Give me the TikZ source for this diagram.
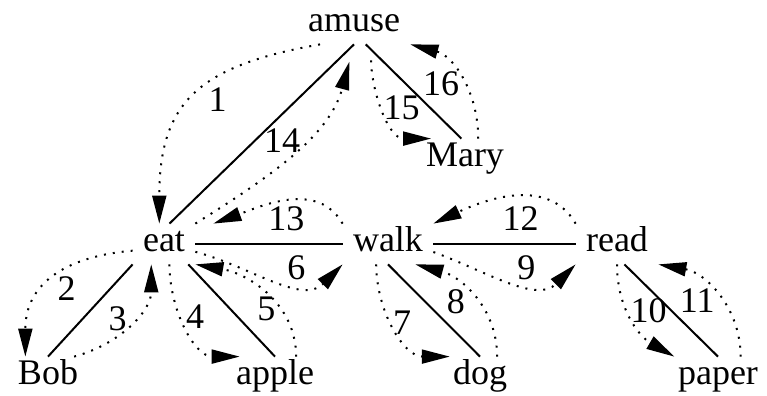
\documentclass[tikz,border=0pt]{standalone}
\usepackage{fontspec}
\setmainfont{Liberation Serif}
\usepackage{tikz}
\usetikzlibrary{arrows.meta, positioning}
\tikzstyle{word} = [font=\fontsize{18}{20}\selectfont, inner xsep=5pt, inner ysep=1.5pt, text height=12.5pt, text depth=4.5pt, on grid]
\tikzstyle{num} = [font=\fontsize{18}{20}\selectfont, inner sep=1pt]
\tikzstyle{branch} = [draw, line width=1pt]
\tikzstyle{visit} = [draw, line width=1pt, dash pattern=on 1pt off 3.5pt, -{Triangle[length=14pt, width=7pt]}]

\begin{document}
\begin{tikzpicture}[x=0.5pt, y=0.5pt]
        \useasboundingbox (0,0) rectangle (767,396);
        \node [word] (amuse) at (354,372) {amuse};
        \node [word, below left=110pt and 95pt of amuse] (eat) {eat};
        \node [word, below right=67.5pt and 55.5pt of amuse] (mary) {Mary};
        \node [word, right=112pt of eat] (walk) {walk};
        \node [word, right=114.5pt of walk] (read) {read};
        \node [word, below left=66.5pt and 58pt of eat] (bob) {Bob};
        \node [word, below right=66.5pt and 55.5pt of eat] (apple) {apple};
        \node [word, below right=66.5pt and 46pt of walk] (dog) {dog};
        \node [word, below right=66.5pt and 50.5pt of read] (paper) {paper};

        \path [branch] (amuse.south) -- (eat.75);
        \path [branch] (amuse.300) -- (mary.100);
        \path [branch] (eat) -- (walk);
        \path [branch] (walk) -- (read);
        \path [branch] (eat.south west) -- (bob.north);
        \path [branch] (eat.320) -- (apple.north);
        \path [branch] (walk.south) -- (dog.north);
        \path [branch] (read.290) -- (paper.north);

        \path [visit] (amuse.211) to[out=190, in=90, looseness=1.3] node[num, pos=.52, right=7pt] (n1) {1} (eat.103);
        \path [visit] (eat.192) to[out=185, in=90, looseness=1.2] node[num, pos=.58, right=5pt] (n2) {2} (bob.138);
        \path [visit] (bob.38) to[out=15, in=270] node[num, pos=.55, left=2pt] (n3) {3} (eat.238);
        \path [visit] (eat.285) to[out=270, in=180] node[num, pos=.4, right=1pt] (n4) {4} (apple.150);
        \path [visit] (apple.44) to[out=90, in=-10] node[num, pos=.35, left=1pt] (n5) {5} (eat.south east);
        \path [visit] (eat.346) to[out=-15, in=225] node[num, pos=.65, above=0pt] (n6) {6} (walk.south west);
        \path [visit] (walk.240) to[out=270, in=180] node[num, pos=.45, right=-1pt] (n7) {7} (dog.146);
        \path [visit] (dog.50) to[out=90, in=-15] node[num, pos=.45, left=5pt] (n8) {8} ([xshift=-9pt]walk.south east);
        \path [visit] (walk.350) to[out=-20, in=225] node[num, pos=.62, above=0pt] (n9) {9} (read.south west);
        \path [visit] (read.south) to[out=270, in=150] node[num, pos=.42, right=0pt] (n10) {10} (paper.155);
        \path [visit] (paper.42) to[out=90, in=-10] node[num, pos=.45, left=2pt] (n11) {11} (read.south east);
        \path [visit] (read.north west) to[out=120, in=25] node[num, pos=.45, below=4pt] (n12) {12} (walk.north east);
        \path [visit] (walk.north west) to[out=120, in=20] node[num, pos=.5, below=1.5pt] (n13) {13} ([xshift=9pt]eat.north east);
        \path [visit, shorten >=9pt] (eat.north east) to[out=32, in=255] node[num, pos=.55, left=0pt] (n14) {14} (amuse.south);
        \path [visit, shorten <=8pt] (amuse.310) to[out=270, in=180] node[num, pos=.5, right=-2pt] (n15) {15} (mary.149);
        \path [visit] (mary.57) to[out=90, in=-15] node[num, pos=.45, left=1pt] (n16) {16} (amuse.south east);
    \end{tikzpicture}
\end{document}
